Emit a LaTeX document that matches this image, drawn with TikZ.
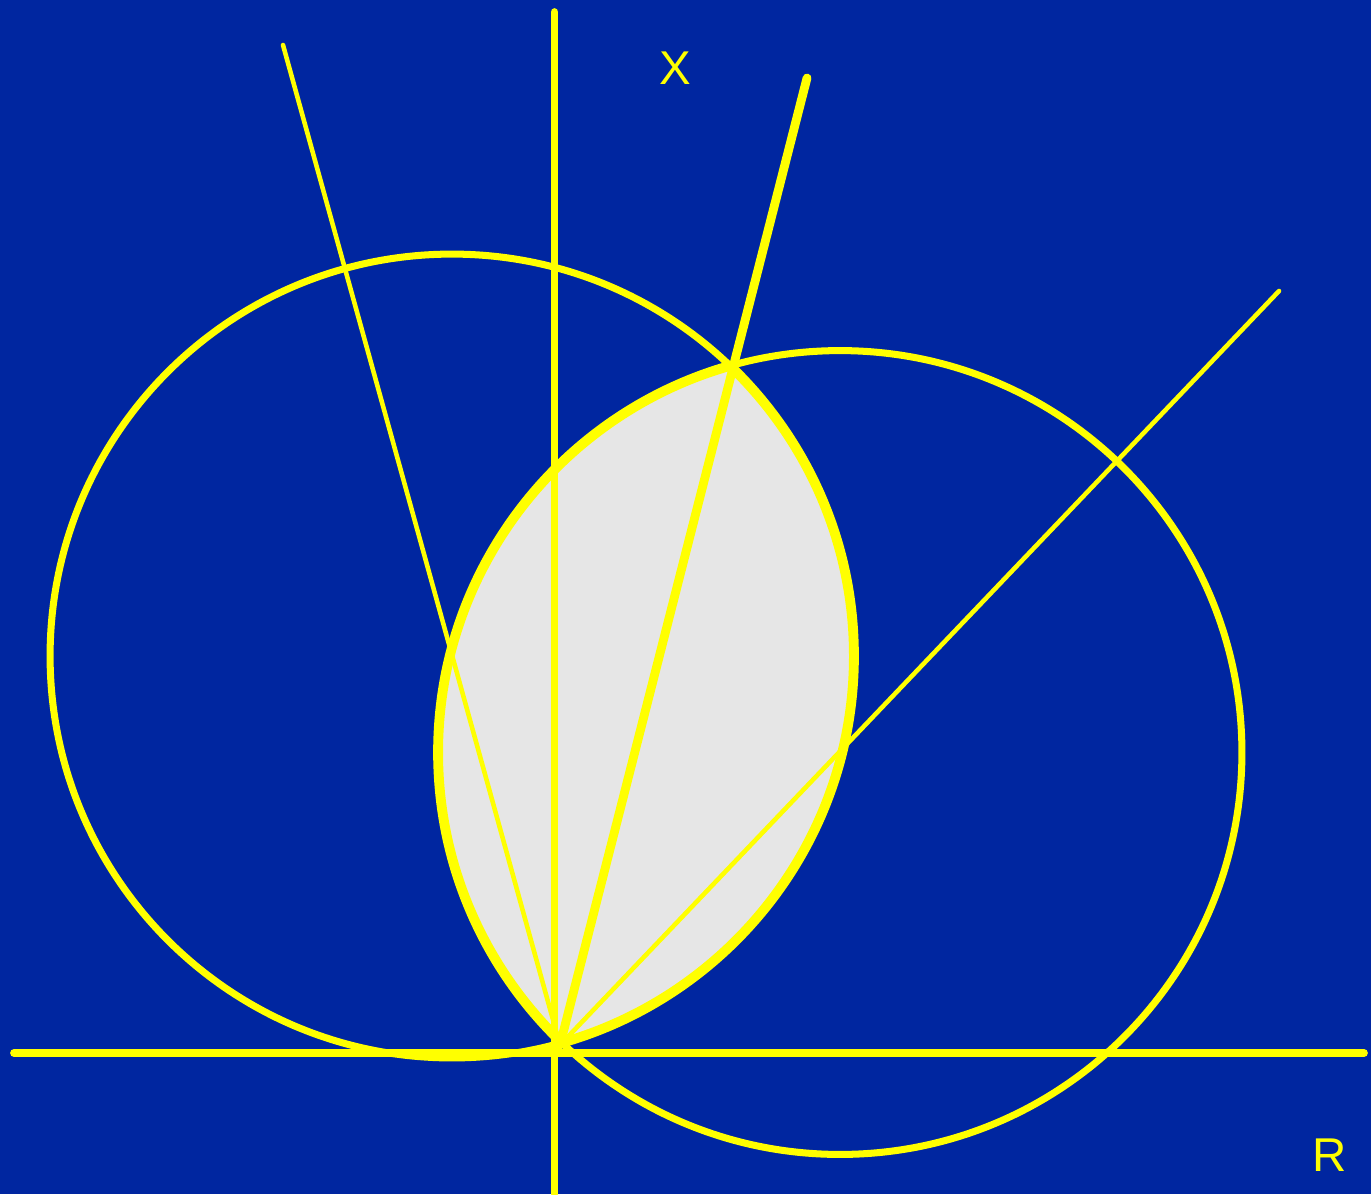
\documentclass[tikz,border=0pt]{standalone}
\usepackage{fontspec}
\setmainfont{Liberation Sans}
\definecolor{bgblue}{RGB}{0,38,160}
\definecolor{ylw}{RGB}{255,255,0}
\definecolor{lensgray}{RGB}{230,230,230}
\begin{document}
\begin{tikzpicture}[x=0.02cm,y=-0.02cm,
  circ/.style={draw=ylw,line width=4pt},
  lensedge/.style={draw=ylw,line width=5.6pt},
  axis/.style={draw=ylw,line width=4.4pt,line cap=round},
  thinray/.style={draw=ylw,line width=2.6pt,line cap=round},
  thickray/.style={draw=ylw,line width=5pt,line cap=round},
  lbl/.style={text=ylw,font=\fontsize{27}{30}\selectfont,inner sep=0pt}]
\useasboundingbox (0,0) rectangle (1371,1194);
\fill[bgblue] (0,0) rectangle (1371,1194);
\coordinate (c1) at (452,656);
\coordinate (c2) at (840,752.5);
\coordinate (O) at (560,1045);
\coordinate (ya) at (554.5,12);
\coordinate (yb) at (554.5,1194);
\coordinate (xa) at (14,1053);
\coordinate (xb) at (1364,1053);
\coordinate (p1) at (283,45);
\coordinate (p2) at (807,78);
\coordinate (p3) at (1279,291);
% lens fill
\begin{scope}
  \clip (c1) circle[radius=8.04cm];
  \fill[lensgray] (c2) circle[radius=8.04cm];
\end{scope}
% circles
\draw[circ] (c1) circle[radius=8.04cm];
\draw[circ] (c2) circle[radius=8.04cm];
% lens border
\begin{scope}
  \clip (c2) circle[radius=8.04cm];
  \draw[lensedge] (c1) circle[radius=8.04cm];
\end{scope}
\begin{scope}
  \clip (c1) circle[radius=8.04cm];
  \draw[lensedge] (c2) circle[radius=8.04cm];
\end{scope}
% axes
\draw[axis] (ya) -- (yb);
\draw[axis] (xa) -- (xb);
% rays
\draw[thinray] (O) -- (p1);
\draw[thickray] (O) -- (p2);
\draw[thinray] (O) -- (p3);
% labels
\node[lbl] (lx) at (675,68.5) {X};
\node[lbl] (lr) at (1330,1155) {R};
\end{tikzpicture}
\end{document}
